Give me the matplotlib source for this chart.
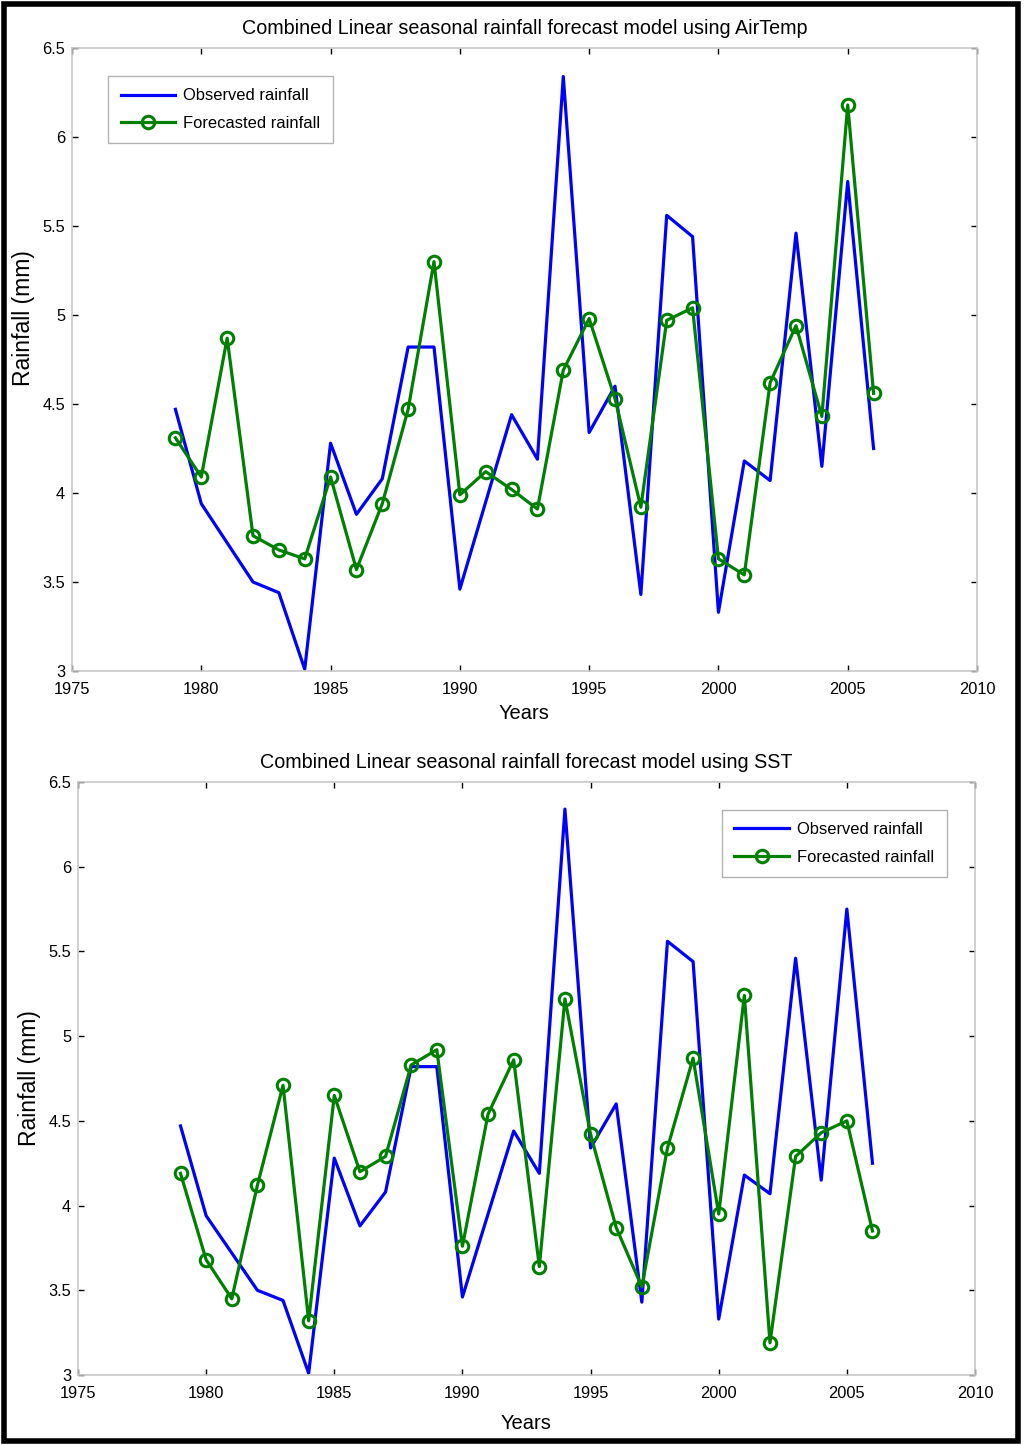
import matplotlib
matplotlib.use('Agg')
from matplotlib import pyplot as plt
from matplotlib.patches import Rectangle

years = list(range(1979, 2007))

observed = [4.47, 3.94, 3.72, 3.50, 3.44, 3.01, 4.28, 3.88, 4.08, 4.82,
            4.82, 3.46, 3.95, 4.44, 4.19, 6.34, 4.34, 4.60, 3.43, 5.56,
            5.44, 3.33, 4.18, 4.07, 5.46, 4.15, 5.75, 4.25]

forecast_airtemp = [4.31, 4.09, 4.87, 3.76, 3.68, 3.63, 4.09, 3.57, 3.94, 4.47,
                    5.30, 3.99, 4.12, 4.02, 3.91, 4.69, 4.98, 4.53, 3.92, 4.97,
                    5.04, 3.63, 3.54, 4.62, 4.94, 4.43, 6.18, 4.56]

forecast_sst = [4.19, 3.68, 3.45, 4.12, 4.71, 3.32, 4.65, 4.20, 4.29, 4.83,
                4.92, 3.76, 4.54, 4.86, 3.64, 5.22, 4.42, 3.87, 3.52, 4.34,
                4.87, 3.95, 5.24, 3.19, 4.29, 4.43, 4.50, 3.85]

titles = ['Combined Linear seasonal rainfall forecast model using AirTemp',
          'Combined Linear seasonal rainfall forecast model using SST']

x_ticks = [1975, 1980, 1985, 1990, 1995, 2000, 2005, 2010]
y_ticks = [3, 3.5, 4, 4.5, 5, 5.5, 6, 6.5]
y_tick_labels = ['3', '3.5', '4', '4.5', '5', '5.5', '6', '6.5']

plt.rcParams['font.family'] = ['Liberation Sans', 'DejaVu Sans']

W, H = 1024, 1445
fig = plt.figure(figsize=(W / 100, H / 100), dpi=100)

# axes boxes in pixels: left, top, right, bottom
boxes = [(72, 48, 977, 671), (78, 782, 975, 1375)]
legend_pos = [(0.04, 0.955), (0.718, 0.953)]
ylabel_y = [0.567, 0.5]
xlabel_pad = [5, 9]

for i in range(2):
    l, t, r, b = boxes[i]
    ax = fig.add_axes([l / W, 1 - b / H, (r - l) / W, (b - t) / H])
    forecast = forecast_airtemp if i == 0 else forecast_sst
    ax.plot(years, observed, color='#0000ff', lw=2.3, label='Observed rainfall')
    ax.plot(years, forecast, color='#008000', lw=2.3, marker='o', ms=9,
            mfc='none', mec='#008000', mew=2.2, label='Forecasted rainfall')
    ax.set_xlim(1975, 2010)
    ax.set_ylim(3, 6.5)
    ax.set_xticks(x_ticks)
    ax.set_yticks(y_ticks)
    ax.set_yticklabels(y_tick_labels)
    ax.tick_params(direction='in', length=4, width=1, color='black',
                   top=True, right=True, labelsize=11.8, pad=5)
    ax.tick_params(axis='x', pad=8)
    for s in ax.spines.values():
        s.set_color('#c8c8c8')
        s.set_linewidth(1.2)
    ax.set_title(titles[i], fontsize=14.2, pad=10)
    ax.set_xlabel('Years', fontsize=14.5, labelpad=xlabel_pad[i])
    ax.set_ylabel('Rainfall (mm)', fontsize=16.5)
    ax.yaxis.set_label_coords(-37 / (r - l), ylabel_y[i])
    leg = ax.legend(loc='upper left', bbox_to_anchor=legend_pos[i],
                    fontsize=11.9, frameon=True, fancybox=False,
                    handlelength=3.3, borderpad=0.75, labelspacing=0.75,
                    handletextpad=0.5, borderaxespad=0)
    leg.get_frame().set_edgecolor('#a0a0a0')
    leg.get_frame().set_linewidth(1.0)

fig.patches.append(Rectangle((0.004, 0.003), 0.99, 0.994, transform=fig.transFigure,
                             fill=False, edgecolor='black', lw=4))

fig.savefig('out.png', dpi=100)
